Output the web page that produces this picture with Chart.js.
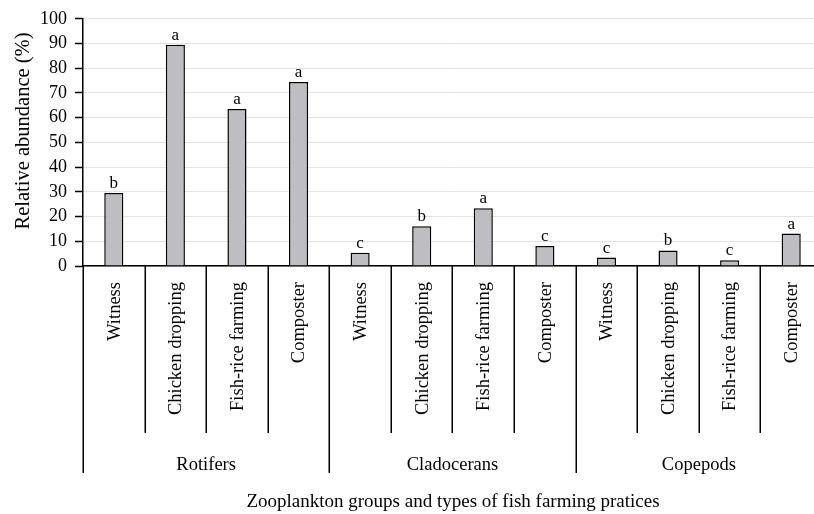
<!DOCTYPE html>
<html>
<head>
<meta charset="utf-8">
<script src="https://cdn.jsdelivr.net/npm/chart.js@4"></script>
<style>
  html, body { margin: 0; padding: 0; background: #fff; overflow: hidden; }
  #wrap { width: 830px; height: 514px; position: relative; }
</style>
</head>
<body>
<div id="wrap"><canvas id="abundanceChart"></canvas></div>
<script>
// Zooplankton groups and the farming practices compared inside each group
const groups = ['Rotifers', 'Cladocerans', 'Copepods'];
const practices = ['Witness', 'Chicken dropping', 'Fish-rice farming', 'Composter'];
// Relative abundance (%) per practice, group by group
const rotifers = [29.5, 89.5, 63.5, 74.4];
const cladocerans = [5.4, 16.1, 23.4, 8.1];
const copepods = [3.4, 6.3, 2.3, 13.1];
// Significance letters shown above each bar
const rotiferLetters = ['b', 'a', 'a', 'a'];
const cladoceranLetters = ['c', 'b', 'a', 'c'];
const copepodLetters = ['c', 'b', 'c', 'a'];
const yTicks = [0, 10, 20, 30, 40, 50, 60, 70, 80, 90, 100];

const labels = [];
groups.forEach(g => practices.forEach(p => labels.push(p)));
const values = [...rotifers, ...cladocerans, ...copepods];
const letters = [...rotiferLetters, ...cladoceranLetters, ...copepodLetters];

const FONT = '"Liberation Serif", "Times New Roman", serif';

// Draws the letters, the two-level category axis and both axis titles
const groupAxis = {
  id: 'groupAxis',
  afterDraw(chart) {
    const ctx = chart.ctx;
    const x = chart.scales.x;
    const area = chart.chartArea;
    const meta = chart.getDatasetMeta(0);
    const step = x.getPixelForValue(1) - x.getPixelForValue(0);
    const axisY = area.bottom;

    ctx.save();
    ctx.fillStyle = '#000';
    ctx.strokeStyle = '#000';

    // letters above bars
    ctx.font = '17px ' + FONT;
    ctx.textAlign = 'center';
    ctx.textBaseline = 'bottom';
    meta.data.forEach((bar, i) => {
      ctx.fillText(letters[i], bar.x, bar.y - 1);
    });

    // separators between categories
    ctx.lineWidth = 1.5;
    for (let i = 0; i <= labels.length; i++) {
      const sx = Math.round(x.getPixelForValue(i) - step / 2) + 0.25;
      const isGroupEdge = i % practices.length === 0;
      ctx.beginPath();
      ctx.moveTo(sx, axisY);
      ctx.lineTo(sx, isGroupEdge ? 473 : 433);
      ctx.stroke();
    }

    // practice names, rotated
    ctx.font = '18.5px ' + FONT;
    labels.forEach((lab, i) => {
      ctx.save();
      ctx.translate(x.getPixelForValue(i), axisY + 16);
      ctx.rotate(-Math.PI / 2);
      ctx.textAlign = 'right';
      ctx.textBaseline = 'middle';
      ctx.fillText(lab, 0, 1);
      ctx.restore();
    });

    // group names
    ctx.font = '18.5px ' + FONT;
    ctx.textAlign = 'center';
    ctx.textBaseline = 'middle';
    groups.forEach((g, gi) => {
      const first = gi * practices.length;
      const last = first + practices.length - 1;
      const cx = (x.getPixelForValue(first) + x.getPixelForValue(last)) / 2;
      ctx.fillText(g, cx, 465);
    });

    // axis titles
    ctx.font = '19px ' + FONT;
    ctx.fillText('Zooplankton groups and types of fish farming pratices', 453, 502);
    ctx.font = '20.5px ' + FONT;
    ctx.save();
    ctx.translate(24, 131);
    ctx.rotate(-Math.PI / 2);
    ctx.fillText('Relative abundance (%)', 0, 0);
    ctx.restore();

    ctx.restore();
  }
};

const ctx = document.getElementById('abundanceChart').getContext('2d');
const abundanceChart = new Chart(ctx, {
  type: 'bar',
  data: {
    labels: labels,
    datasets: [{
      label: 'Relative abundance',
      data: values,
      backgroundColor: '#bdbdc2',
      borderColor: '#000',
      borderWidth: 1.5,
      borderSkipped: 'bottom',
      categoryPercentage: 1,
      barPercentage: 0.31
    }]
  },
  options: {
    responsive: true,
    maintainAspectRatio: false,
    animation: false,
    layout: { padding: { top: 16, right: 8, left: 0, bottom: 0 } },
    plugins: {
      legend: { display: false },
      tooltip: { enabled: false }
    },
    scales: {
      x: {
        ticks: { display: false },
        grid: { display: false },
        border: { display: true, color: '#000', width: 1.5 },
        afterFit(scale) { scale.height = 248; }
      },
      y: {
        min: 0,
        max: 100,
        afterBuildTicks(scale) { scale.ticks = yTicks.map(v => ({ value: v })); },
        ticks: {
          color: '#000',
          padding: 8,
          font: { family: FONT, size: 18 }
        },
        grid: { color: '#e3e3e3', lineWidth: 1, tickLength: 8, tickColor: '#000', tickWidth: 1.5 },
        border: { display: true, color: '#000', width: 1.5 },
        afterFit(scale) { scale.width = 83; }
      }
    }
  },
  plugins: [groupAxis]
});
</script>
</body>
</html>
